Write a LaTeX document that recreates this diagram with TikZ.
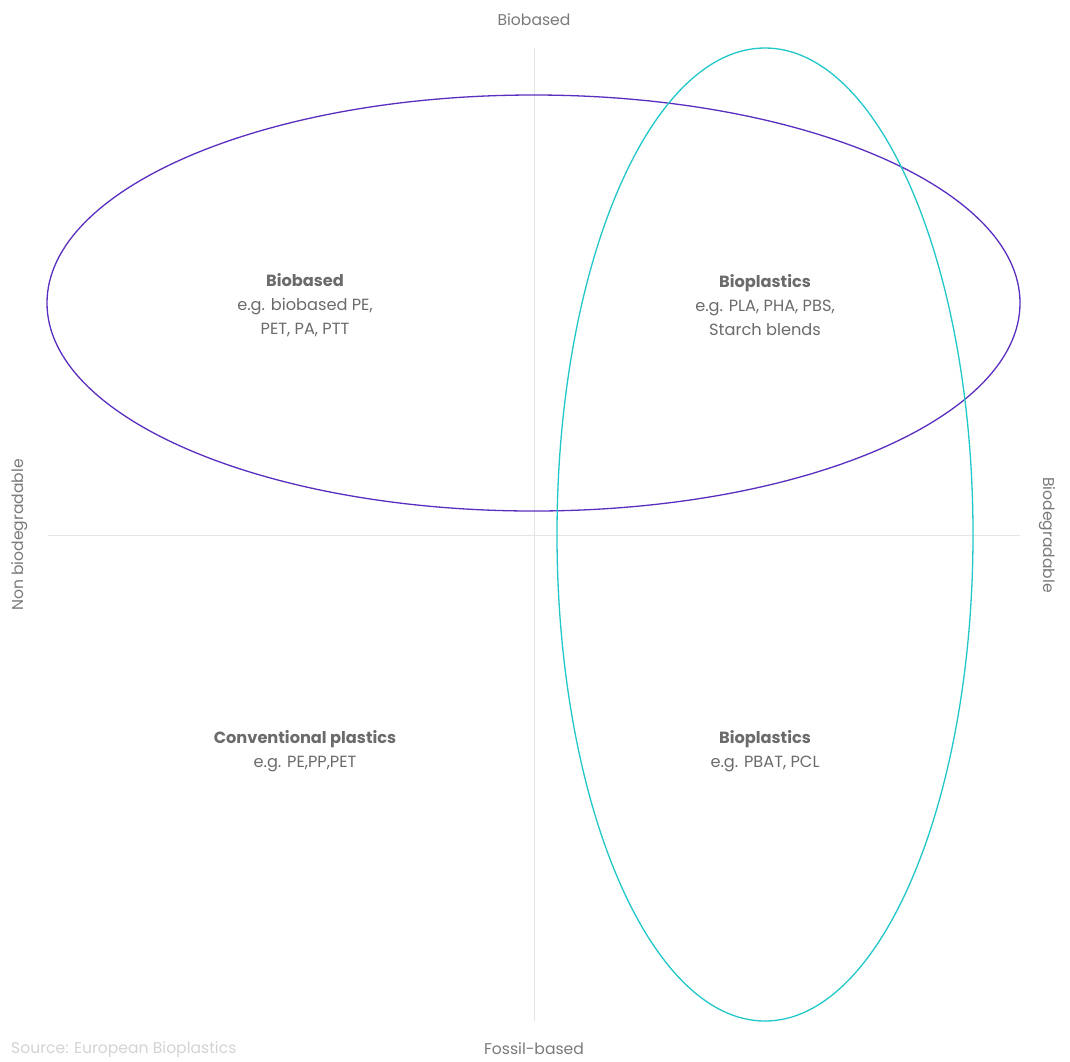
\documentclass[tikz,border=0pt]{standalone}
\usepackage{fontspec}
\setmainfont{Poppins}
\definecolor{txtgray}{HTML}{6B6B6B}
\definecolor{axgray}{HTML}{7A7A7A}
\definecolor{srcgray}{HTML}{D4D4D4}
\definecolor{linegray}{HTML}{E4E4E4}
\definecolor{violetring}{HTML}{5A2FC0}
\definecolor{cyanring}{HTML}{22C7C9}
\begin{document}
\begin{tikzpicture}[x=1pt,y=-1pt,
  quadtext/.style={align=center,text=txtgray,font=\fontsize{16.2}{24}\selectfont},
  axlabel/.style={text=axgray,font=\fontsize{15.6}{18}\selectfont,inner sep=0pt},
  axisline/.style={draw=linegray,line width=1pt},
  ring/.style={line width=1.3pt}]
\useasboundingbox[fill=white] (0,0) rectangle (1070,1061);
% axes
\coordinate (vt) at (534,48);
\coordinate (vb) at (534,1021);
\coordinate (hl) at (48,535);
\coordinate (hr) at (1020,535);
\draw[axisline] (vt) -- (vb);
\draw[axisline] (hl) -- (hr);
% ellipses
\draw[ring,draw=violetring] (533.5,303) ellipse [x radius=486.5pt, y radius=208pt];
\draw[ring,draw=cyanring] (765,534.5) ellipse [x radius=208pt, y radius=486.5pt];
% quadrant texts
\node[quadtext] (q1) at (305,305) {\textbf{Biobased}\\e.g. biobased PE,\\PET, PA, PTT};
\node[quadtext] (q2) at (765,305) {\textbf{Bioplastics}\\e.g. PLA, PHA, PBS,\\Starch blends};
\node[quadtext] (q3) at (305,751) {\textbf{Conventional plastics}\\e.g. PE,PP,PET};
\node[quadtext] (q4) at (765,751) {\textbf{Bioplastics}\\e.g. PBAT, PCL};
% axis labels
\node[axlabel] (top) at (534,20) {Biobased};
\node[axlabel] (bot) at (534,1049) {Fossil-based};
\node[axlabel,rotate=90] (left) at (20,535) {Non biodegradable};
\node[axlabel,rotate=-90] (right) at (1047,535) {Biodegradable};
\node[axlabel,text=srcgray,anchor=west] (src) at (11,1050) {Source: European Bioplastics};
\end{tikzpicture}
\end{document}
